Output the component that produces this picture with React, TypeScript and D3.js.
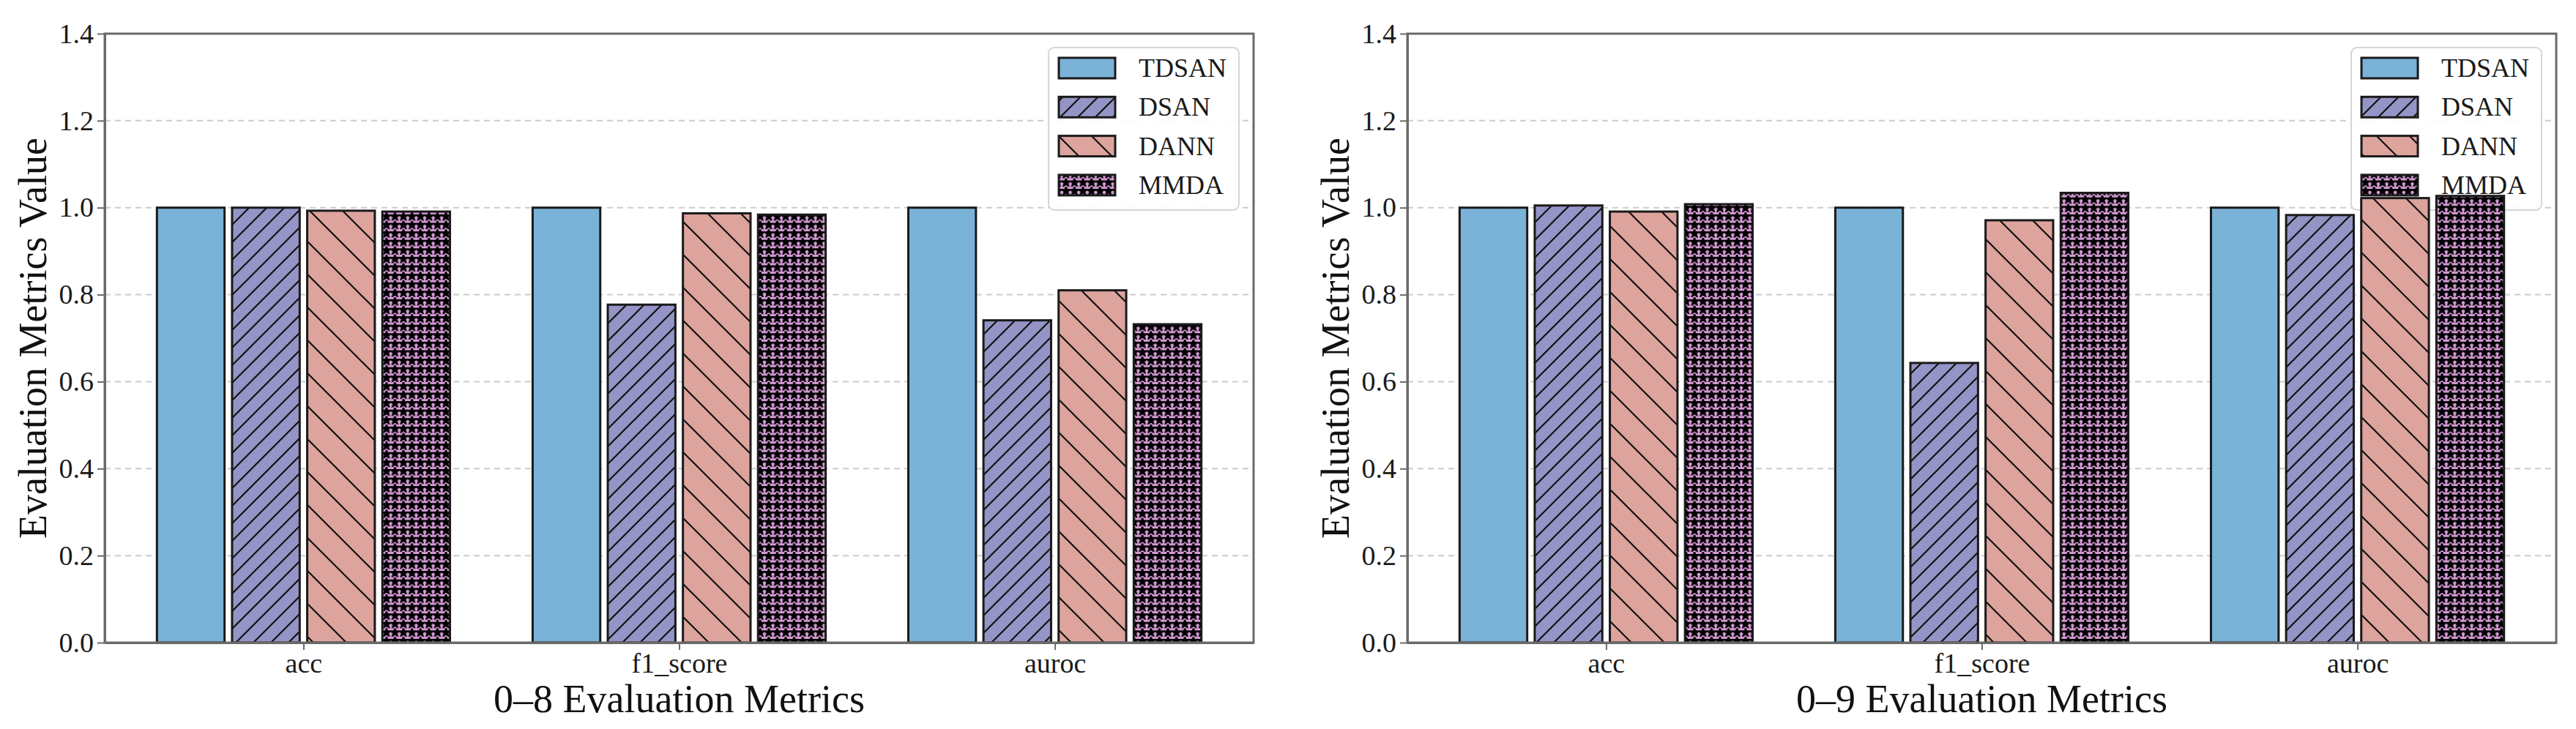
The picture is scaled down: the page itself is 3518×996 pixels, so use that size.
import { useEffect, useRef } from 'react'
import * as d3 from 'd3'

const WIDTH = 3518
const HEIGHT = 996

const categories = ['acc', 'f1_score', 'auroc']
const models = ['TDSAN', 'DSAN', 'DANN', 'MMDA']
const colors = ['#7AB2D8', '#9494C6', '#DDA39D', '#D49BD4']

// 0–8 panel
const tdsan08 = [1.0, 1.0, 1.0]
const dsan08 = [1.0, 0.777, 0.741]
const dann08 = [0.993, 0.987, 0.81]
const mmda08 = [0.991, 0.984, 0.732]

// 0–9 panel
const tdsan09 = [1.0, 1.0, 1.0]
const dsan09 = [1.005, 0.643, 0.983]
const dann09 = [0.991, 0.971, 1.022]
const mmda09 = [1.008, 1.034, 1.027]

const yTicks = [0, 0.2, 0.4, 0.6, 0.8, 1.0, 1.2, 1.4]
const xLabels = ['0–8 Evaluation Metrics', '0–9 Evaluation Metrics']
const yLabel = 'Evaluation Metrics Value'

const FONT = '"Liberation Serif", "Times New Roman", serif'
const offsets = [-0.3, -0.1, 0.1, 0.3]
const barW = 0.18

function addPatterns(defs: d3.Selection<SVGDefsElement, unknown, null, undefined>) {
  // TDSAN: plain fill
  defs.append('pattern').attr('id', 'fill-0').attr('patternUnits', 'userSpaceOnUse')
    .attr('width', 10).attr('height', 10)
    .append('rect').attr('width', 10).attr('height', 10).attr('fill', colors[0])

  // DSAN: dense '/'
  const w1 = 24, s1 = w1 / 4
  const p1 = defs.append('pattern').attr('id', 'fill-1').attr('patternUnits', 'userSpaceOnUse')
    .attr('width', w1).attr('height', w1)
  p1.append('rect').attr('width', w1).attr('height', w1).attr('fill', colors[1])
  p1.append('path')
    .attr('d', `M${-s1},${s1} l${2 * s1},${-2 * s1} M0,${w1} l${w1},${-w1} M${w1 - s1},${w1 + s1} l${2 * s1},${-2 * s1}`)
    .attr('stroke', '#111').attr('stroke-width', 2.2)

  // DANN: sparse '\'
  const w2 = 45, s2 = w2 / 4
  const p2 = defs.append('pattern').attr('id', 'fill-2').attr('patternUnits', 'userSpaceOnUse')
    .attr('width', w2).attr('height', w2)
  p2.append('rect').attr('width', w2).attr('height', w2).attr('fill', colors[2])
  p2.append('path')
    .attr('d', `M${-s2},${w2 - s2} l${2 * s2},${2 * s2} M0,0 l${w2},${w2} M${w2 - s2},${-s2} l${2 * s2},${2 * s2}`)
    .attr('stroke', '#111').attr('stroke-width', 2.2)

  // MMDA: stars
  const w3 = 11.6
  const p3 = defs.append('pattern').attr('id', 'fill-3').attr('patternUnits', 'userSpaceOnUse')
    .attr('width', w3).attr('height', w3)
  p3.append('rect').attr('width', w3).attr('height', w3).attr('fill', colors[3])
  p3.append('path')
    .attr('transform', `translate(${w3 / 2},${w3 / 2})`)
    .attr('d', d3.symbol().type(d3.symbolStar).size(52)()!)
    .attr('fill', '#000').attr('stroke', '#000').attr('stroke-width', 1.4)
}

function drawPanel(
  svg: d3.Selection<SVGSVGElement, unknown, null, undefined>,
  left: number,
  values: number[][],
  xlabel: string
) {
  const right = left + 1569
  const top = 46
  const bottom = 878
  const x = d3.scaleLinear().domain([-0.529, 2.529]).range([left, right])
  const y = d3.scaleLinear().domain([0, 1.4]).range([bottom, top])
  const g = svg.append('g')

  // grid
  g.append('g').selectAll('line').data(yTicks).join('line')
    .attr('x1', left).attr('x2', right)
    .attr('y1', d => y(d)).attr('y2', d => y(d))
    .attr('stroke', '#cccccc').attr('stroke-width', 2).attr('stroke-dasharray', '8,6')

  // legend (bars are drawn on top of it, as in the original)
  const lx = right - 280
  const ly = 65
  const lg = g.append('g')
  lg.append('rect').attr('x', lx).attr('y', ly).attr('width', 260).attr('height', 222)
    .attr('rx', 8).attr('fill', '#fff').attr('fill-opacity', 0.9)
    .attr('stroke', '#d6d6d6').attr('stroke-width', 2)
  models.forEach((m, j) => {
    const cy = 93 + j * 53.3
    lg.append('rect').attr('x', lx + 14).attr('y', cy - 14).attr('width', 77).attr('height', 28)
      .attr('fill', `url(#fill-${j})`).attr('stroke', '#1a1a1a').attr('stroke-width', 3)
    lg.append('text').attr('x', lx + 123).attr('y', cy + 12)
      .attr('font-family', FONT).attr('font-size', 36).attr('fill', '#1a1a1a').text(m)
  })

  // bars
  models.forEach((_, j) => {
    g.append('g').selectAll('rect').data(values[j]).join('rect')
      .attr('x', (_, i) => x(i + offsets[j] - barW / 2))
      .attr('width', x(barW) - x(0))
      .attr('y', d => y(d))
      .attr('height', d => y(0) - y(d))
      .attr('fill', `url(#fill-${j})`)
      .attr('stroke', '#1a1a1a').attr('stroke-width', 3)
  })

  // frame (top/right spines)
  g.append('rect').attr('x', left).attr('y', top).attr('width', right - left).attr('height', bottom - top)
    .attr('fill', 'none').attr('stroke', '#6a6a6a').attr('stroke-width', 3)

  // axes
  const yAxis = d3.axisLeft(y).tickValues(yTicks).tickFormat(d3.format('.1f'))
    .tickSize(10).tickSizeOuter(0).tickPadding(5)
  const ya = g.append('g').attr('transform', `translate(${left},0)`).call(yAxis)
  const xAxis = d3.axisBottom(x).tickValues([0, 1, 2]).tickFormat((_, i) => categories[i])
    .tickSize(10).tickSizeOuter(0).tickPadding(4)
  const xa = g.append('g').attr('transform', `translate(0,${bottom})`).call(xAxis)
  ;[ya, xa].forEach(a => {
    a.select('.domain').attr('stroke', '#6a6a6a').attr('stroke-width', 3)
    a.selectAll('.tick line').attr('stroke', '#6a6a6a').attr('stroke-width', 2)
    a.selectAll('.tick text').attr('font-family', FONT).attr('font-size', 38).attr('fill', '#1a1a1a')
  })

  // labels
  g.append('text').attr('x', (left + right) / 2).attr('y', 973)
    .attr('text-anchor', 'middle').attr('font-family', FONT).attr('font-size', 54)
    .attr('fill', '#111').text(xlabel)
  g.append('text').attr('transform', 'rotate(-90)')
    .attr('x', -(top + bottom) / 2).attr('y', left - 80)
    .attr('text-anchor', 'middle').attr('font-family', FONT).attr('font-size', 54)
    .attr('fill', '#111').text(yLabel)
}

export default function App() {
  const ref = useRef<SVGSVGElement | null>(null)

  useEffect(() => {
    if (!ref.current) return
    const svg = d3.select(ref.current)
    svg.selectAll('*').remove()
    svg.append('rect').attr('width', WIDTH).attr('height', HEIGHT).attr('fill', '#fff')
    addPatterns(svg.append('defs'))
    drawPanel(svg, 143, [tdsan08, dsan08, dann08, mmda08], xLabels[0])
    drawPanel(svg, 1922, [tdsan09, dsan09, dann09, mmda09], xLabels[1])
  }, [])

  return (
    <svg ref={ref} width={WIDTH} height={HEIGHT}
      style={{ position: 'absolute', left: 0, top: 0, display: 'block' }} />
  )
}
